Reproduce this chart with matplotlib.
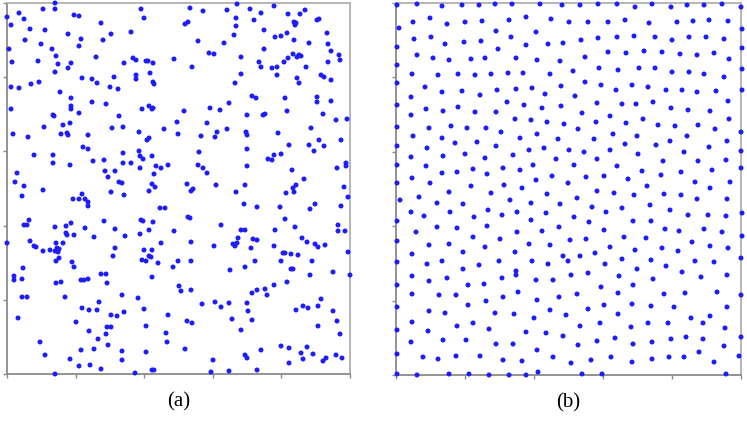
import matplotlib
matplotlib.use("Agg")
import matplotlib.pyplot as plt
import numpy as np

# (a) pseudo-random points (x, y)
random_pts = [
    (48,371),(48,365),(36,365),(134,365),(12,361),(0,357),(67,359),(72,358),(17,355),(137,356),
    (4,349),(94,351),(23,345),(38,344),(124,342),(61,340),(104,340),(74,335),(18,334),(96,334),
    (34,330),(72,328),(2,325),(45,325),(49,318),(89,317),(5,312),(31,313),(51,310),(64,311),
    (61,306),(48,302),(117,311),(126,316),(129,314),(139,313),(141,313),(146,311),(167,315),(143,301),
    (129,299),(129,295),(75,296),(85,295),(90,291),(107,297),(103,287),(111,285),(146,292),(147,290),
    (4,287),(12,286),(24,290),(32,292),(53,282),(64,276),(85,272),(99,270),(4,265),(64,268),
    (64,265),(72,261),(46,259),(47,258),(112,258),(135,265),(142,268),(145,265),(146,266),(170,252),
    (37,247),(56,249),(63,251),(105,246),(116,247),(157,245),(6,240),(21,237),(54,240),(60,241),
    (61,239),(81,239),(132,242),(140,234),(142,236),(76,227),(81,225),(116,221),(132,223),(133,218),
    (136,215),(145,218),(27,219),(46,219),(46,211),(63,209),(86,213),(97,214),(116,211),(124,211),
    (133,206),(149,208),(154,206),(161,209),(147,200),(10,201),(98,203),(108,203),(101,197),(8,192),
    (17,188),(112,192),(115,191),(145,190),(148,187),
    (183,366),(196,363),(220,364),(230,370),(243,365),(254,361),(267,368),(281,360),(293,360),(298,364),
    (310,354),(312,355),(178,350),(181,352),(229,356),(229,348),(247,354),(287,352),(288,349),(289,351),
    (257,344),(280,341),(268,337),(274,338),(227,339),(320,341),(191,333),(217,331),(287,334),(302,331),
    (321,330),(202,321),(207,320),(257,325),(324,323),(286,320),(290,317),(292,319),(294,318),(281,316),
    (277,312),(332,319),(333,314),(185,307),(234,317),(252,312),(254,307),(265,306),(270,307),(299,307),
    (321,312),(270,299),(234,300),(228,291),(290,296),(292,291),(314,299),(317,297),(324,294),(245,278),
    (249,276),(278,276),(310,277),(310,272),(324,273),(177,263),(203,266),(213,264),(222,271),(240,259),
    (256,259),(258,260),(280,263),(316,260),(329,254),(340,255),(200,251),(220,245),(171,240),(194,238),
    (208,237),(210,242),(239,242),(240,239),(271,241),(304,246),(334,234),(282,229),(302,229),(312,234),
    (317,228),(307,223),(192,222),(240,225),(261,215),(265,214),(267,219),(274,220),(191,209),(196,206),
    (200,201),(240,208),(285,204),(330,206),(339,211),(339,208),(297,195),(180,190),(209,189),(238,189),
    (289,189),(337,187),
    (36,184),(142,183),(15,178),(66,175),(72,175),(78,175),(75,180),(81,172),(81,168),(104,182),
    (117,179),(153,166),(158,166),(22,154),(17,149),(20,149),(97,153),(134,154),(136,153),(146,152),
    (48,147),(59,148),(64,151),(78,146),(108,145),(142,144),(167,143),(59,141),(60,139),(67,139),
    (87,137),(118,138),(133,140),(0,131),(23,133),(27,128),(29,127),(36,123),(43,124),(49,131),
    (50,126),(52,125),(56,131),(48,123),(51,122),(52,116),(49,113),(154,131),(108,126),(106,118),
    (137,124),(145,124),(142,118),(144,117),(135,114),(139,113),(151,111),(65,112),(67,107),(16,106),
    (7,98),(7,94),(15,95),(166,107),(94,100),(99,100),(100,91),(74,94),(77,94),(81,95),
    (49,91),(54,92),(145,97),(15,77),(20,77),(58,77),(115,79),(131,76),(92,72),(75,66),
    (82,64),(90,64),(11,56),(69,52),(104,59),(110,58),(117,62),(137,65),(161,59),(100,47),
    (104,47),(82,43),(99,40),(139,48),(159,41),(160,32),(91,35),(101,29),(33,32),(38,19),
    (87,25),(74,24),(115,23),(139,22),(63,15),(115,14),(72,8),(83,9),(94,5),(48,0),
    (128,1),(145,4),(147,4),
    (184,183),(186,185),(229,182),(279,181),(286,186),(287,182),(341,177),(237,170),(250,167),(273,167),
    (303,165),(308,170),(334,168),(181,157),(183,156),(214,149),(278,155),(331,149),(331,143),(338,143),
    (234,144),(238,144),(268,144),(288,147),(231,136),(226,130),(228,128),(230,131),(246,135),(250,134),
    (244,126),(207,128),(184,132),(267,128),(295,136),(300,132),(308,130),(311,127),(318,129),(341,122),
    (171,113),(184,113),(223,104),(238,107),(248,113),(274,113),(276,121),(278,121),(284,120),(291,119),
    (305,113),(284,105),(286,105),(303,99),(326,102),(343,99),(280,92),(267,89),(258,85),(260,79),
    (250,84),(245,81),(172,88),(174,83),(184,84),(195,70),(208,72),(214,67),(222,71),(240,71),
    (241,63),(245,54),(234,44),(225,55),(180,53),(185,51),(296,68),(301,66),(289,64),(311,68),
    (314,75),(326,63),(330,53),(311,48),(333,40),(178,25),(206,14),(204,2),(222,3),(250,4),
    (238,19),(240,16),(254,24),(274,28),(282,26),(282,11),(294,21),(296,15),(300,27),(306,20),
    (316,13),(319,16),(329,19),(335,16),
]

# (b) low-discrepancy points (x, y)
uniform_pts = [
    (1,370),(21,371),(46,369),(66,370),(83,370),(99,371),(116,371),(144,371),(166,370),(34,357),
    (17,353),(51,351),(69,353),(86,354),(113,355),(130,358),(155,356),(3,347),(100,344),(140,343),
    (18,336),(35,338),(49,331),(68,333),(85,334),(115,338),(102,326),(130,330),(152,331),(167,332),
    (1,328),(21,320),(37,317),(53,315),(75,316),(89,317),(120,317),(141,315),(164,314),(1,310),
    (16,301),(42,300),(62,301),(79,300),(95,301),(112,302),(127,302),(154,301),(1,292),(29,288),
    (46,283),(66,284),(84,280),(101,285),(120,286),(136,287),(149,281),(165,289),(15,278),(111,273),
    (30,266),(47,264),(62,268),(79,263),(100,263),(128,270),(146,267),(165,269),(1,270),(15,260),
    (119,256),(135,255),(151,253),(168,251),(1,248),(33,247),(55,249),(71,247),(90,247),(105,243),
    (141,241),(162,236),(17,239),(46,237),(59,232),(81,233),(100,229),(124,237),(1,229),(31,227),
    (69,221),(117,220),(133,225),(148,227),(160,216),(15,218),(47,219),(89,217),(1,210),(30,209),
    (46,202),(61,203),(77,206),(91,201),(107,207),(124,205),(137,210),(156,199),(16,197),(1,192),
    (34,192),(75,189),(108,190),(140,195),
    (184,370),(202,371),(221,371),(239,368),(256,371),(275,368),(291,370),(308,370),(326,371),(345,368),
    (173,353),(192,353),(212,353),(229,355),(253,352),(281,353),(297,354),(313,355),(332,354),(346,346),
    (185,335),(202,337),(221,338),(238,339),(259,338),(276,335),(293,338),(310,338),(328,336),(346,327),
    (189,318),(212,323),(230,322),(248,324),(266,323),(284,321),(301,320),(318,322),(333,316),(177,304),
    (203,307),(222,305),(243,307),(259,307),(276,303),(293,303),(308,301),(328,298),(346,306),(189,293),
    (205,290),(220,285),(236,290),(252,288),(270,285),(286,285),(301,283),(320,284),(346,285),(179,279),
    (201,272),(226,271),(240,271),(257,273),(275,267),(292,265),(314,264),(332,274),(186,262),(214,259),
    (230,252),(247,256),(262,250),(279,249),(302,250),(319,246),(333,256),(345,243),(182,246),(200,253),
    (217,241),(241,239),(274,234),(291,239),(313,228),(331,234),(173,225),(188,223),(198,236),(214,225),
    (229,231),(242,221),(260,230),(288,223),(345,224),(178,210),(201,216),(221,209),(267,214),(302,214),
    (330,215),(190,198),(208,199),(232,196),(246,204),(265,200),(285,203),(316,205),(345,207),(172,192),
    (251,189),(299,193),(334,193),
    (126,187),(53,183),(95,182),(151,181),(4,175),(23,178),(41,172),(67,171),(114,175),(135,172),
    (164,171),(15,163),(28,159),(54,163),(78,158),(92,165),(106,160),(121,163),(135,155),(150,162),
    (1,154),(20,143),(41,148),(61,147),(77,138),(91,149),(104,136),(121,143),(146,144),(163,148),
    (1,134),(33,130),(53,131),(67,123),(89,128),(119,123),(133,131),(154,130),(167,119),(16,121),
    (1,113),(31,111),(46,114),(67,106),(83,110),(103,114),(120,104),(136,114),(152,111),(172,114),
    (16,99),(33,94),(51,97),(72,90),(88,91),(106,97),(120,100),(140,95),(157,95),(1,90),
    (16,81),(43,80),(60,80),(90,74),(107,78),(122,83),(141,75),(163,78),(1,68),(33,64),
    (49,62),(72,70),(99,62),(118,61),(138,57),(154,65),(170,60),(16,53),(32,44),(61,49),
    (77,52),(93,46),(130,43),(150,42),(167,39),(1,45),(15,33),(47,35),(70,35),(100,31),
    (117,31),(141,25),(1,21),(27,18),(42,16),(60,19),(84,19),(107,15),(126,14),(157,18),
    (142,3),(1,1),(21,0),(53,1),(73,1),(93,0),(113,0),(130,0),
    (201,184),(218,182),(238,180),(268,181),(285,180),(301,176),(314,187),(331,176),(181,177),(196,168),
    (210,163),(226,167),(254,170),(274,165),(292,160),(312,160),(330,159),(346,162),(178,158),(193,153),
    (237,154),(255,154),(208,145),(228,138),(250,137),(269,146),(283,144),(296,133),(308,146),(326,143),
    (346,139),(174,135),(190,136),(214,128),(239,125),(266,127),(282,124),(314,129),(332,127),(184,119),
    (199,122),(226,116),(209,111),(241,106),(255,115),(270,109),(299,114),(318,113),(345,117),(175,100),
    (192,102),(223,99),(257,96),(286,103),(305,98),(331,100),(205,88),(237,90),(181,81),(222,82),
    (268,81),(289,82),(321,83),(345,80),(192,66),(208,70),(222,61),(236,71),(255,69),(278,68),
    (295,57),(314,59),(331,68),(184,49),(204,52),(235,48),(252,52),(272,52),(307,52),(329,47),
    (182,30),(201,34),(219,37),(237,31),(256,33),(275,36),(290,38),(307,36),(328,29),(345,38),
    (175,12),(195,15),(215,18),(236,13),(256,16),(273,18),(288,18),(303,23),(318,13),(343,19),
    (186,1),(206,1),(330,1),
]

panel_labels = ["(a)", "(b)"]
panel_limits = [(343, 371), (345, 372)]

fig = plt.figure(figsize=(7.47, 4.22), dpi=100)
ax_a = fig.add_axes([7 / 747, 48 / 422, 343 / 747, 371 / 422])
ax_b = fig.add_axes([396 / 747, 47 / 422, 345 / 747, 372 / 422])

for ax, pts, lim, label in zip([ax_a, ax_b], [random_pts, uniform_pts], panel_limits, panel_labels):
    xs, ys = zip(*pts)
    ax.scatter(xs, ys, s=13, color="#1c1cff", edgecolors="none", clip_on=False, zorder=3)
    ax.set_xlim(0, lim[0])
    ax.set_ylim(0, lim[1])
    ax.set_xticks(np.linspace(0, lim[0], 6))
    ax.set_yticks(np.linspace(0, lim[1], 6))
    ax.tick_params(direction="out", length=3, width=1, colors="#8a8a8a",
                   labelbottom=False, labelleft=False)
    for side, sp in ax.spines.items():
        sp.set_color("#8a8a8a" if side in ("left", "bottom") else "#b0b0b0")
        sp.set_linewidth(1.3)
    ax.text(0.5, -0.075, label, transform=ax.transAxes, ha="center", va="center",
            fontsize=15, family="Liberation Serif")

fig.savefig("out.png", dpi=100)
